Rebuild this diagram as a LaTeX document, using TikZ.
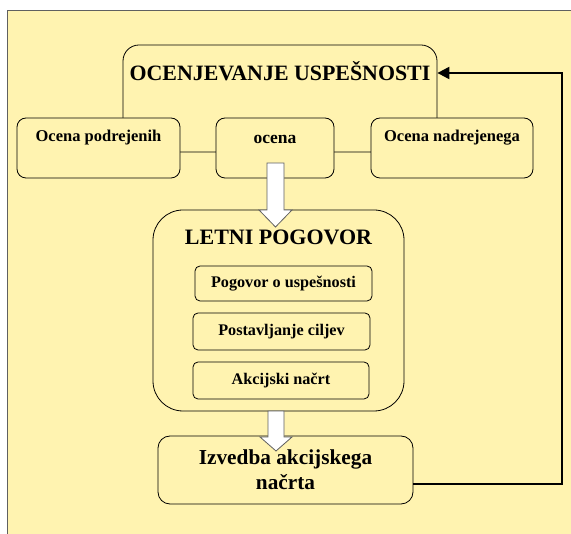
\documentclass[tikz,border=0pt]{standalone}
\usepackage{fontspec}
\setmainfont{Liberation Serif}
\usetikzlibrary{arrows.meta}
\definecolor{bgyellow}{HTML}{FFF3B0}
\definecolor{rim}{HTML}{606060}

\begin{document}
\begin{tikzpicture}[%
      x=1pt, y=-1pt,
      box/.style={draw=black, fill=bgyellow, line width=0.8pt, inner sep=0pt,
        rounded corners=9pt, font=\bfseries\fontsize{16.5}{18}\selectfont},
      smallbox/.style={box, rounded corners=5pt, font=\bfseries\fontsize{16.2}{18}\selectfont},
      blockarrow/.style={draw=rim, fill=white, line width=0.8pt, line join=miter},
      feedback/.style={draw=black, line width=2.2pt, -{Triangle[length=12pt,width=12pt]}},
      ]
      \useasboundingbox (0,0) rectangle (571,534);
      % background
      \fill [bgyellow] (7,10) rectangle (571,534);
      \draw [rim, line width=1.6pt] (7.5,534) -- (7.5,10.5) -- (571,10.5);

      % ocenjevanje
      \node [box, rounded corners=16pt, minimum width=314pt, text height=36pt, text depth=71pt,
        font=\bfseries\fontsize{21.9}{24}\selectfont] (ocenjevanje) at (280,98.5) {OCENJEVANJE USPEŠNOSTI};
      \node [box, minimum width=163pt, text height=24pt, text depth=36pt] (podrejeni) at (98.5,148) {Ocena podrejenih};
      \node [box, minimum width=118pt, text height=26pt, text depth=34pt,
        font=\bfseries\fontsize{17.5}{19}\selectfont] (ocena) at (275,148) {ocena};
      \node [box, minimum width=162pt, text height=24pt, text depth=36pt] (nadrejeni) at (452,148) {Ocena nadrejenega};

      % letni pogovor
      \node [box, rounded corners=30pt, minimum width=251pt, text height=35pt, text depth=166pt,
        font=\bfseries\fontsize{22}{24}\selectfont] (pogovor) at (278.5,310.5) {LETNI POGOVOR};
      \node [smallbox, minimum width=177pt, minimum height=35pt] (uspesnost) at (283.5,283.5) {Pogovor o uspešnosti};
      \node [smallbox, minimum width=177pt, minimum height=37pt] (cilji) at (281.5,331.5) {Postavljanje ciljev};
      \node [smallbox, minimum width=176pt, minimum height=37pt] (nacrt) at (281,380.5) {Akcijski načrt};

      % izvedba
      \node [box, rounded corners=12pt, minimum width=255pt, minimum height=68pt, align=center,
        font=\bfseries\fontsize{21.3}{25}\selectfont] (izvedba) at (285.5,470) {Izvedba akcijskega\\načrta};

      % block arrows
      \draw [blockarrow] (267,163) -- (284,163) -- (284,210) -- (292,210)
        -- (275.5,227) -- (259,210) -- (267,210) -- cycle;
      \draw [blockarrow] (268,411) -- (284,411) -- (284,437) -- (292,437)
        -- (276,451) -- (260,437) -- (268,437) -- cycle;

      % feedback
      \coordinate (povratek) at (562,73);
      \draw [feedback] ([yshift=-14pt]izvedba.east) -| (povratek) -- (povratek -| ocenjevanje.east);
\end{tikzpicture}
\end{document}
